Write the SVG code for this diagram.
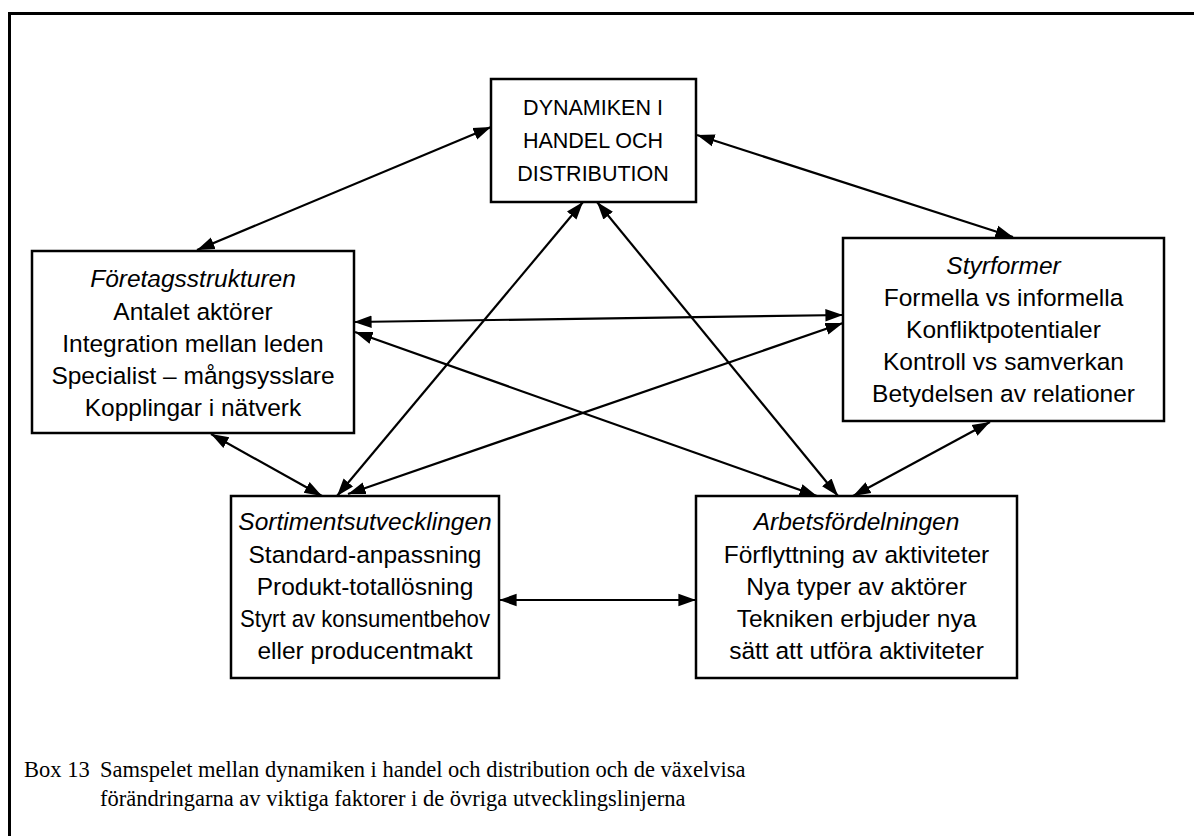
<svg xmlns="http://www.w3.org/2000/svg" width="1194" height="836" viewBox="0 0 1194 836">
  <defs>
    <marker id="ah" viewBox="0 0 10 10" refX="10" refY="5" markerWidth="8" markerHeight="8" orient="auto-start-reverse" markerUnits="strokeWidth">
      <path d="M0,1.5 L10,5 L0,8.5 Z" fill="#000"/>
    </marker>
    <style>
      .box { fill: #fff; stroke: #000; stroke-width: 2.5; }
      .frame { fill: none; stroke: #000; stroke-width: 3; }
      .t { font-family: "Liberation Sans", Arial, sans-serif; font-size: 24.5px; fill: #000; text-anchor: middle; }
      .h { font-style: italic; }
      .top { font-size: 21.5px; }
      .cap { font-family: "Liberation Serif", "Times New Roman", serif; font-size: 22.5px; fill: #000; }
      .conn line { stroke: #000; stroke-width: 2.2; marker-start: url(#ah); marker-end: url(#ah); }
    </style>
  </defs>

  <rect width="1194" height="836" fill="#fff"/>
  <!-- open frame: only the top and left edges fall inside the page -->
  <rect class="frame" x="9.5" y="13.5" width="1200" height="840"/>

  <!-- connectors, all double-headed -->
  <g id="connectors" class="conn">
    <line x1="491" y1="127" x2="197" y2="250"/>
    <line x1="697" y1="135" x2="1013" y2="237"/>
    <line x1="583" y1="202" x2="337" y2="496"/>
    <line x1="597" y1="202" x2="838" y2="496"/>
    <line x1="211" y1="434" x2="322" y2="496"/>
    <line x1="354" y1="322" x2="843" y2="315"/>
    <line x1="355" y1="332" x2="817" y2="496"/>
    <line x1="348" y1="494" x2="843" y2="323"/>
    <line x1="990" y1="422" x2="853" y2="496"/>
    <line x1="499" y1="600" x2="696" y2="600"/>
  </g>

  <g id="node-dynamiken">
    <rect class="box" x="491" y="79" width="205" height="123"/>
    <text class="t top" x="593" y="115">DYNAMIKEN I</text>
    <text class="t top" x="593" y="148">HANDEL OCH</text>
    <text class="t top" x="593" y="181">DISTRIBUTION</text>
  </g>

  <g id="node-foretagsstrukturen">
    <rect class="box" x="32" y="251" width="322" height="182"/>
    <text class="t h" x="193" y="287">Företagsstrukturen</text>
    <text class="t" x="193" y="320">Antalet aktörer</text>
    <text class="t" x="193" y="352">Integration mellan leden</text>
    <text class="t" x="193" y="384">Specialist – mångsysslare</text>
    <text class="t" x="193" y="416">Kopplingar i nätverk</text>
  </g>

  <g id="node-styrformer">
    <rect class="box" x="843" y="238" width="321" height="183"/>
    <text class="t h" x="1003.5" y="274">Styrformer</text>
    <text class="t" x="1003.5" y="306">Formella vs informella</text>
    <text class="t" x="1003.5" y="338">Konfliktpotentialer</text>
    <text class="t" x="1003.5" y="370">Kontroll vs samverkan</text>
    <text class="t" x="1003.5" y="402">Betydelsen av relationer</text>
  </g>

  <g id="node-sortimentsutvecklingen">
    <rect class="box" x="231" y="496" width="268" height="182"/>
    <text class="t h" x="365" y="530">Sortimentsutvecklingen</text>
    <text class="t" x="365" y="563">Standard-anpassning</text>
    <text class="t" x="365" y="595">Produkt-totallösning</text>
    <text class="t" x="365" y="627" textLength="250" lengthAdjust="spacingAndGlyphs">Styrt av konsumentbehov</text>
    <text class="t" x="365" y="659">eller producentmakt</text>
  </g>

  <g id="node-arbetsfordelningen">
    <rect class="box" x="696" y="496" width="321" height="182"/>
    <text class="t h" x="856.5" y="530">Arbetsfördelningen</text>
    <text class="t" x="856.5" y="563">Förflyttning av aktiviteter</text>
    <text class="t" x="856.5" y="595">Nya typer av aktörer</text>
    <text class="t" x="856.5" y="627">Tekniken erbjuder nya</text>
    <text class="t" x="856.5" y="659">sätt att utföra aktiviteter</text>
  </g>

  <!-- caption with hanging indent -->
  <g id="caption">
    <text class="cap" x="24" y="777">Box 13</text>
    <text class="cap" x="100" y="777">Samspelet mellan dynamiken i handel och distribution och de växelvisa</text>
    <text class="cap" x="100" y="806">förändringarna av viktiga faktorer i de övriga utvecklingslinjerna</text>
  </g>
</svg>
